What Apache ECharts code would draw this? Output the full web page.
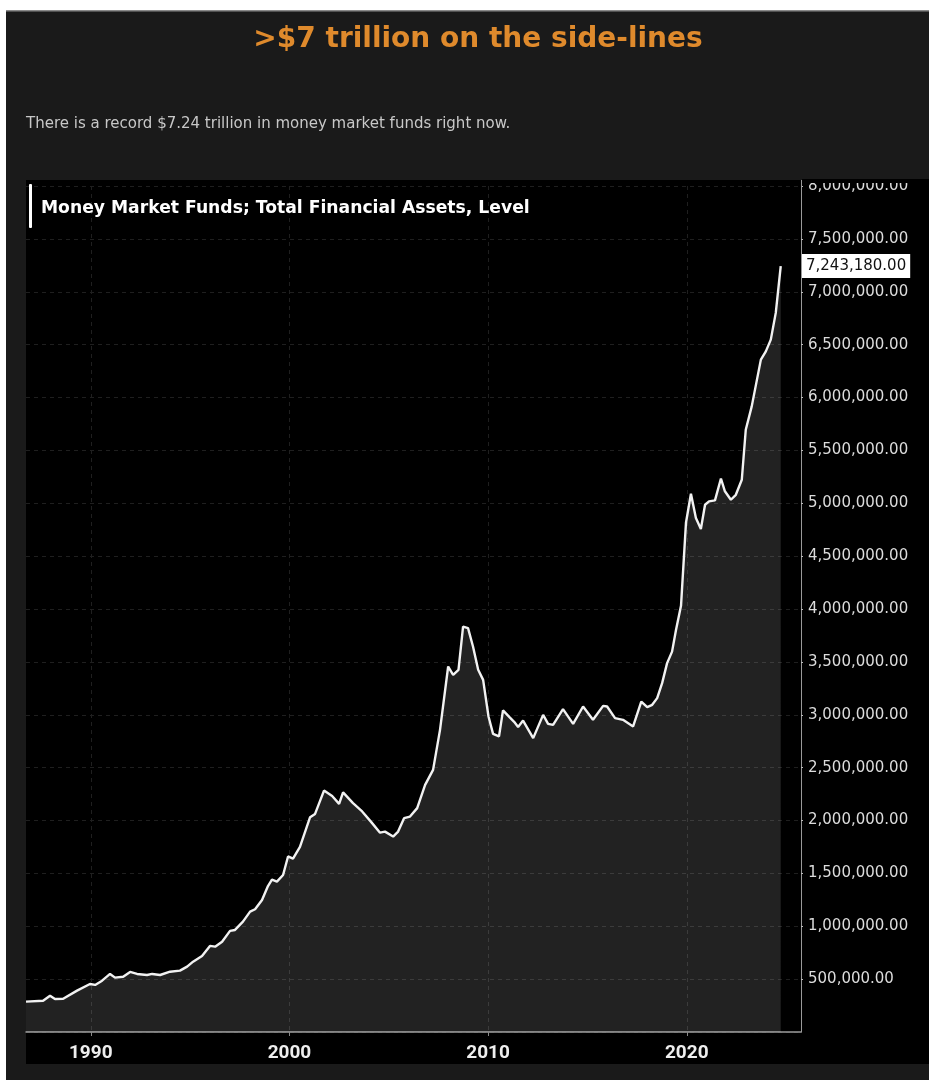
<!DOCTYPE html>
<html>
<head>
<meta charset="utf-8">
<title>Money Market Funds</title>
<script src="https://cdn.jsdelivr.net/npm/echarts@6/dist/echarts.min.js"></script>
<style>
  html, body { margin: 0; padding: 0; background: #fff; }
  #chart { width: 929px; height: 1080px; }
</style>
</head>
<body>
<div id="chart"></div>
<script>
// Money market funds, total financial assets (level, $ millions)
const years = [
  1986.74, 1987.60, 1987.95, 1988.20, 1988.61, 1989.31, 1989.96, 1990.22, 1990.57, 1990.97,
  1991.22, 1991.63, 1991.98, 1992.33, 1992.83, 1993.09, 1993.49, 1993.99, 1994.49, 1994.85,
  1995.15, 1995.60, 1996.00, 1996.26, 1996.61, 1997.01, 1997.26, 1997.66, 1998.02, 1998.27,
  1998.62, 1998.92, 1999.12, 1999.37, 1999.68, 1999.93, 2000.18, 2000.53, 2001.04, 2001.29,
  2001.74, 2002.15, 2002.50, 2002.70, 2003.20, 2003.66, 2004.11, 2004.56, 2004.81, 2005.22,
  2005.47, 2005.77, 2006.07, 2006.43, 2006.83, 2007.23, 2007.58, 2007.99, 2008.24, 2008.51,
  2008.74, 2008.99, 2009.24, 2009.50, 2009.75, 2010.02, 2010.25, 2010.55, 2010.75, 2011.10,
  2011.31, 2011.51, 2011.76, 2012.27, 2012.77, 2013.02, 2013.27, 2013.77, 2014.28, 2014.78,
  2015.28, 2015.79, 2015.99, 2016.39, 2016.79, 2017.30, 2017.71, 2018.01, 2018.26, 2018.51,
  2018.76, 2019.01, 2019.26, 2019.46, 2019.71, 2019.96, 2020.21, 2020.46, 2020.71, 2020.92,
  2021.12, 2021.42, 2021.72, 2021.92, 2022.22, 2022.47, 2022.77, 2022.97, 2023.27, 2023.73,
  2023.98, 2024.23, 2024.48, 2024.73
];

const assets = [
  287000, 296000, 343000, 312000, 314000, 391000, 454000, 445000, 485000, 549000,
  514000, 523000, 568000, 549000, 539000, 549000, 539000, 570000, 580000, 618000,
  665000, 719000, 814000, 807000, 854000, 956000, 965000, 1044000, 1138000, 1161000,
  1249000, 1380000, 1440000, 1422000, 1485000, 1660000, 1640000, 1750000, 2031000, 2062000,
  2283000, 2231000, 2157000, 2266000, 2164000, 2086000, 1987000, 1885000, 1895000, 1848000,
  1895000, 2022000, 2037000, 2117000, 2337000, 2479000, 2857000, 3456000, 3378000, 3425000,
  3834000, 3819000, 3645000, 3425000, 3330000, 2983000, 2819000, 2795000, 3042000, 2973000,
  2933000, 2885000, 2945000, 2779000, 2999000, 2914000, 2904000, 3053000, 2914000, 3078000,
  2952000, 3084000, 3078000, 2968000, 2952000, 2890000, 3125000, 3072000, 3094000, 3157000,
  3299000, 3488000, 3597000, 3803000, 4030000, 4815000, 5090000, 4860000, 4756000, 4986000,
  5018000, 5027000, 5234000, 5113000, 5033000, 5080000, 5222000, 5695000, 5916000, 6358000,
  6436000, 6547000, 6800000, 7243180
];

const decadeTicks = [1990, 2000, 2010, 2020];
const seriesName = 'Money Market Funds; Total Financial Assets, Level';
const titleText = '>$7 trillion on the side-lines';
const subtitleText = 'There is a record $7.24 trillion in money market funds right now.';

const points = years.map((y, i) => [y, assets[i]]);
const latest = assets[assets.length - 1];

function money(v) {
  return Number(v).toLocaleString('en-US', { minimumFractionDigits: 2, maximumFractionDigits: 2 });
}

const PAGE = '#1a1a1a';

const chart = echarts.init(document.getElementById('chart'), null, { renderer: 'canvas' });

chart.setOption({
  backgroundColor: '#ffffff',
  animation: false,
  title: [
    {
      text: titleText,
      left: 473,
      top: 21,
      textAlign: 'center',
      textStyle: { color: '#df8a2c', fontFamily: 'DejaVu Sans', fontWeight: 'bold', fontSize: 28 }
    },
    {
      text: subtitleText,
      left: 21,
      top: 112,
      textStyle: { color: '#c8c8c8', fontFamily: 'DejaVu Sans', fontWeight: 'normal', fontSize: 15 }
    }
  ],
  legend: {
    left: 33,
    top: 187,
    padding: 0,
    itemWidth: 3,
    itemHeight: 44,
    data: [{ name: seriesName, icon: 'rect', itemStyle: { color: 'rgba(0,0,0,0)' } }],
    textStyle: { color: '#ffffff', fontFamily: 'DejaVu Sans', fontWeight: 'bold', fontSize: 17.2 },
    selectedMode: false
  },
  graphic: [
    { type: 'rect', z: -10, silent: true, shape: { x: 6, y: 10, width: 923, height: 1070 }, style: { fill: '#8a8a8a' } },
    { type: 'rect', z: -9, silent: true, shape: { x: 6, y: 11.5, width: 923, height: 1070 }, style: { fill: PAGE } },
    { type: 'rect', z: -8, silent: true, shape: { x: 26, y: 180, width: 903, height: 884 }, style: { fill: '#000000' } },
    // legend marker bar
    { type: 'rect', z: 60, silent: true, shape: { x: 29, y: 184, width: 3, height: 44, r: 1 }, style: { fill: '#ffffff' } },
    { type: 'rect', z: 100, silent: true, shape: { x: 790, y: 12, width: 139, height: 168 }, style: { fill: PAGE } },
    { type: 'rect', z: 100, silent: true, shape: { x: 802, y: 179, width: 127, height: 4 }, style: { fill: '#000000' } },
    { type: 'line', z: 50, silent: true, shape: { x1: 801.5, y1: 180, x2: 801.5, y2: 187 }, style: { stroke: '#9a9a9a', lineWidth: 1 } }
  ],
  grid: { left: 26, right: 128, top: 186, bottom: 48, containLabel: false },
  xAxis: {
    type: 'value',
    min: 1986.74,
    max: 2025.75,
    axisLine: { show: true, lineStyle: { color: '#9a9a9a', width: 1.5 } },
    axisTick: { show: true, length: 4, customValues: decadeTicks, lineStyle: { color: '#8a8a8a' } },
    axisLabel: {
      customValues: decadeTicks,
      color: '#eeeeee',
      fontFamily: 'Roboto',
      fontWeight: 'bold',
      fontSize: 19,
      margin: 12,
      formatter: v => String(v)
    },
    splitLine: { show: true, lineStyle: { color: '#1f1f1f', type: [4, 4], width: 1 } }
  },
  yAxis: {
    type: 'value',
    position: 'right',
    min: 0,
    max: 8000000,
    interval: 500000,
    axisLine: { show: true, lineStyle: { color: '#9a9a9a', width: 1 } },
    axisTick: { show: true, length: 2, lineStyle: { color: '#bbbbbb' } },
    axisLabel: {
      showMinLabel: false,
      color: '#dcdcdc',
      fontFamily: 'DejaVu Sans',
      fontSize: 15,
      margin: 7,
      formatter: v => money(v)
    },
    splitLine: { show: true, lineStyle: { color: '#1f1f1f', type: [4, 4], width: 1 } }
  },
  series: [
    {
      name: seriesName,
      type: 'line',
      data: points,
      showSymbol: false,
      symbol: 'none',
      lineStyle: { color: '#f2f2f2', width: 2.4 },
      itemStyle: { color: '#ffffff' },
      areaStyle: { color: 'rgba(255,255,255,0.135)', opacity: 1 },
      markLine: {
        silent: true,
        symbol: 'none',
        lineStyle: { color: 'rgba(0,0,0,0)', width: 0 },
        data: [{ yAxis: latest }],
        label: {
          show: true,
          position: 'end',
          distance: 1,
          formatter: () => money(latest),
          backgroundColor: '#ffffff',
          color: '#111111',
          fontFamily: 'DejaVu Sans',
          fontSize: 15,
          padding: [5, 4, 4, 4]
        }
      }
    }
  ]
});
</script>
</body>
</html>
